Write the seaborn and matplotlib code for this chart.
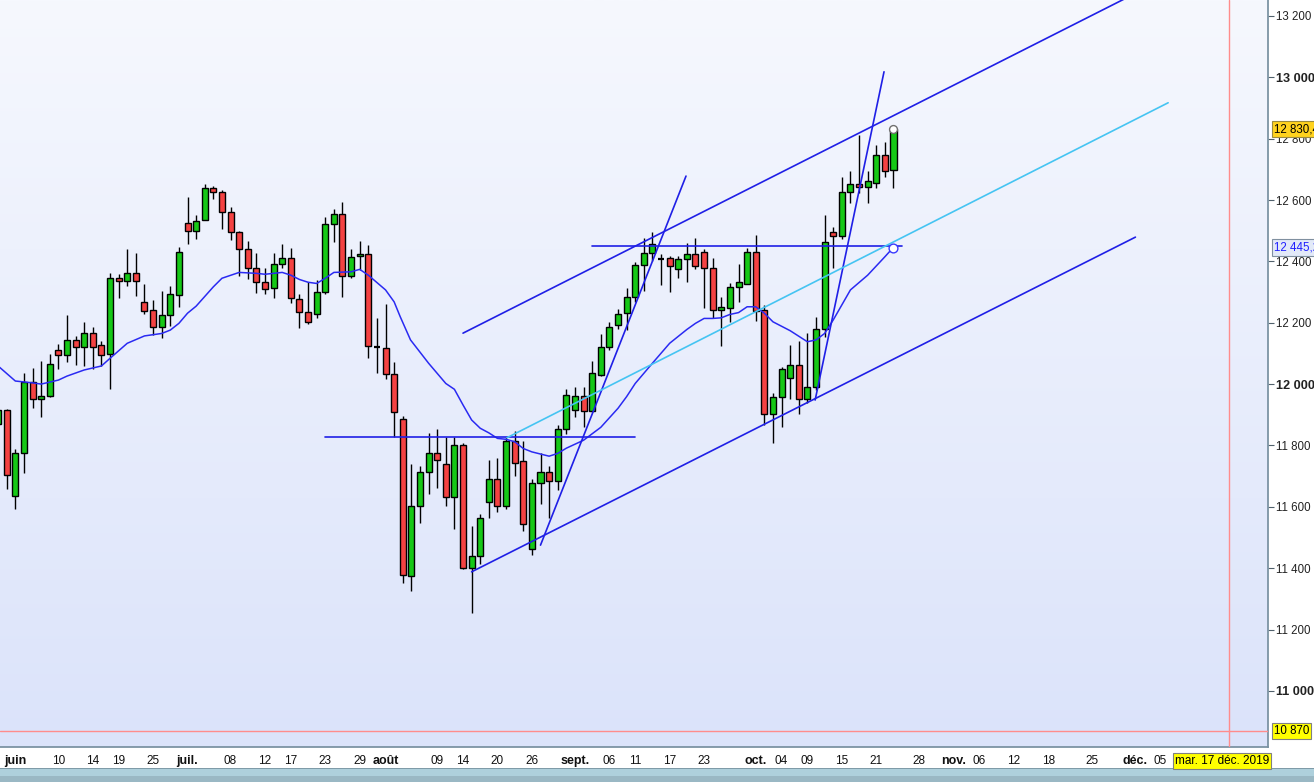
import numpy as np
import pandas as pd
import matplotlib
matplotlib.use("Agg")
import matplotlib.pyplot as plt
from matplotlib.colors import LinearSegmentedColormap
from matplotlib.patches import Rectangle
import matplotlib.transforms as mtransforms
import seaborn as sns

# daily candles, 30 May 2019 .. 23 Oct 2019 (business days)
opens = [11870, 11915, 11635, 11776, 12007, 11953, 11960, 12110, 12094, 12143,
         12120, 12165, 12126, 12097, 12345, 12335, 12361, 12266, 12240, 12185,
         12224, 12289, 12524, 12498, 12534, 12638, 12625, 12560, 12495, 12439,
         12377, 12332, 12312, 12390, 12410, 12276, 12234, 12227, 12299, 12521,
         12553, 12351, 12416, 12423, 12121, 12116, 12032, 11885, 11376, 11604,
         11712, 11774, 11741, 11633, 11800, 11402, 11438, 11614, 11689, 11604,
         11813, 11748, 11464, 11676, 11715, 11683, 11852, 11917, 11962, 11911,
         12029, 12120, 12191, 12231, 12283, 12387, 12426, 12408, 12410, 12374,
         12407, 12423, 12431, 12377, 12243, 12247, 12315, 12325, 12430, 12240,
         11904, 11957, 12019, 12061, 11950, 11989, 12180, 12495, 12482, 12625,
         12651, 12644, 12654, 12746, 12697]
highs = [11922, 11918, 11790, 12037, 12054, 12075, 12098, 12130, 12225, 12157,
         12202, 12186, 12139, 12361, 12359, 12440, 12427, 12325, 12274, 12303,
         12320, 12446, 12609, 12550, 12651, 12646, 12633, 12576, 12499, 12466,
         12427, 12377, 12426, 12457, 12443, 12293, 12332, 12339, 12544, 12570,
         12593, 12439, 12466, 12452, 12214, 12260, 12071, 11896, 11739, 11734,
         11842, 11852, 11828, 11828, 11807, 11536, 11576, 11752, 11758, 11828,
         11846, 11816, 11692, 11774, 11733, 11868, 11983, 11989, 11989, 12075,
         12163, 12202, 12245, 12312, 12398, 12475, 12496, 12424, 12417, 12417,
         12459, 12475, 12439, 12410, 12283, 12328, 12391, 12443, 12486, 12257,
         11972, 12056, 12129, 12139, 12165, 12218, 12550, 12511, 12674, 12694,
         12812, 12694, 12779, 12788, 12830]
lows = [11860, 11657, 11594, 11709, 11923, 11893, 11958, 12050, 12073, 12062,
        12060, 12048, 12059, 11983, 12281, 12321, 12288, 12227, 12159, 12151,
        12190, 12252, 12456, 12472, 12534, 12604, 12507, 12471, 12353, 12343,
        12296, 12293, 12281, 12380, 12263, 12182, 12195, 12216, 12293, 12464,
        12285, 12345, 12372, 12084, 12035, 12018, 11826, 11350, 11326, 11546,
        11643, 11660, 11604, 11529, 11396, 11254, 11415, 11562, 11583, 11594,
        11702, 11521, 11442, 11608, 11565, 11654, 11836, 11893, 11861, 11909,
        12027, 12110, 12180, 12176, 12268, 12304, 12402, 12323, 12301, 12346,
        12334, 12374, 12247, 12214, 12125, 12203, 12266, 12325, 12206, 11865,
        11807, 11861, 11953, 11901, 11937, 11980, 12152, 12377, 12472, 12589,
        12624, 12589, 12638, 12674, 12640]
closes = [11915, 11703, 11776, 12007, 11953, 11961, 12064, 12094, 12143, 12120,
          12165, 12120, 12094, 12345, 12335, 12361, 12335, 12237, 12185, 12224,
          12293, 12430, 12498, 12533, 12638, 12625, 12560, 12495, 12439, 12377,
          12332, 12309, 12390, 12410, 12280, 12234, 12201, 12299, 12521, 12553,
          12351, 12413, 12423, 12124, 12122, 12032, 11908, 11379, 11604, 11712,
          11774, 11751, 11633, 11800, 11399, 11438, 11565, 11689, 11604, 11813,
          11744, 11543, 11676, 11715, 11683, 11852, 11966, 11962, 11911, 12035,
          12120, 12187, 12227, 12283, 12387, 12426, 12456, 12407, 12386, 12407,
          12423, 12384, 12377, 12243, 12250, 12315, 12332, 12430, 12237, 11901,
          11957, 12048, 12061, 11950, 11989, 12180, 12462, 12482, 12625, 12651,
          12644, 12661, 12746, 12694, 12830]

# moving average (day index, value)
ma_days = [0, 2, 4, 5, 7, 8, 10, 12, 13, 15, 17, 19, 20, 21, 22, 23, 25, 26, 28,
           30, 31, 33, 34, 35, 36, 37, 38, 39, 41, 42, 43, 45, 46, 46.7, 47.9, 50,
           52, 53, 54, 55, 56, 57, 58, 59, 60, 61, 62, 63, 64, 65, 66, 68, 70, 72,
           73, 74, 76, 78, 80, 81, 82, 83, 84, 85, 86, 87, 88, 89, 90, 92, 94, 95,
           96, 97, 99, 101, 103, 104]
ma_values = [12059, 12010, 12004, 12000, 12013, 12026, 12046, 12059, 12084, 12133,
             12157, 12165, 12176, 12198, 12231, 12254, 12317, 12345, 12364, 12361,
             12358, 12364, 12355, 12341, 12332, 12328, 12345, 12364, 12366, 12374,
             12355, 12307, 12268, 12220, 12144, 12068, 12002, 11983, 11932, 11883,
             11856, 11841, 11823, 11820, 11812, 11790, 11779, 11772, 11765, 11774,
             11791, 11817, 11859, 11921, 11959, 12002, 12068, 12133, 12178, 12198,
             12214, 12214, 12216, 12227, 12233, 12252, 12252, 12231, 12203, 12174,
             12138, 12144, 12165, 12209, 12307, 12355, 12415, 12446]

# drawn lines: (day0, value0, day1, value1)
channel_lines = [(54.0, 12166, 131.0, 13258),
                 (55.0, 11388, 132.1, 12479),
                 (38.0, 11828, 74.0, 11828),
                 (69.0, 12450, 105.0, 12450),
                 (63.0, 11475, 79.9, 12678),
                 (94.9, 11948, 102.9, 13018)]
mid_line = (59.1, 11825, 135.9, 12917)

tick_dates = ["2019-06-03", "2019-06-10", "2019-06-14", "2019-06-19", "2019-06-25",
              "2019-07-01", "2019-07-08", "2019-07-12", "2019-07-17", "2019-07-23",
              "2019-07-29", "2019-08-01", "2019-08-09", "2019-08-14", "2019-08-20",
              "2019-08-26", "2019-09-02", "2019-09-06", "2019-09-11", "2019-09-17",
              "2019-09-23", "2019-10-01", "2019-10-04", "2019-10-09", "2019-10-15",
              "2019-10-21", "2019-10-28", "2019-11-01", "2019-11-06", "2019-11-12",
              "2019-11-18", "2019-11-25", "2019-12-02", "2019-12-05"]
tick_labels = ["juin", "10", "14", "19", "25", "juil.", "08", "12", "17", "23",
               "29", "août", "09", "14", "20", "26", "sept.", "06", "11", "17",
               "23", "oct.", "04", "09", "15", "21", "28", "nov.", "06", "12",
               "18", "25", "déc.", "05"]
months = ["juin", "juil.", "août", "sept.", "oct.", "nov.", "déc."]

y_ticks = [11000, 11200, 11400, 11600, 11800, 12000, 12200, 12400, 12600,
           12800, 13000, 13200]

last_price = 12830.4
ma_last = 12445.2
cursor_price = 10870
cursor_date = "2019-12-17"

days = pd.bdate_range("2019-05-30", "2019-12-31")
df = pd.DataFrame({"day": np.arange(len(opens)), "open": opens, "high": highs,
                   "low": lows, "close": closes})
ma = pd.DataFrame({"day": ma_days, "ma": ma_values})

sns.set_theme(style="white")
plt.rcParams["font.family"] = ["Liberation Sans", "DejaVu Sans"]
narrow = ["Liberation Sans Narrow", "Liberation Sans", "DejaVu Sans"]

fig = plt.figure(figsize=(13.14, 7.82), dpi=100)
fig.patch.set_facecolor("white")
ax = fig.add_axes([0, 35 / 782, 1268 / 1314, 747 / 782])

xmin, xmax = 0.22, 147.5
ymin, ymax = 10817, 13252
ax.set_xlim(xmin, xmax)
ax.set_ylim(ymin, ymax)

grad = LinearSegmentedColormap.from_list("bg", ["#dbe3fa", "#f6f8fe"])
ax.imshow(np.linspace(0, 1, 256).reshape(-1, 1), cmap=grad, origin="lower",
          extent=[xmin, xmax, ymin, ymax], aspect="auto", zorder=0)

# candles
ax.vlines(df["day"], df["low"], df["high"], color="black", lw=1.0, zorder=3)
for _, r in df.iterrows():
    diff = r["close"] - r["open"]
    if abs(diff) < 3:
        ax.hlines(r["open"], r["day"] - 0.36, r["day"] + 0.36, color="black",
                  lw=1.6, zorder=4)
        continue
    col = "#16c816" if diff > 0 else "#f44242"
    ax.bar(r["day"], abs(diff), bottom=min(r["open"], r["close"]), width=0.7,
           color=col, edgecolor="black", linewidth=1.0, zorder=4)

# moving average
sns.lineplot(data=ma, x="day", y="ma", ax=ax, color="#2a2af2", lw=1.1,
             zorder=5, legend=False)

for d0, v0, d1, v1 in channel_lines:
    ax.plot([d0, d1], [v0, v1], color="#1f1fe6", lw=1.2, zorder=6)
ax.plot([mid_line[0], mid_line[2]], [mid_line[1], mid_line[3]],
        color="#45c4f2", lw=1.2, zorder=6)

ax.scatter([104], [ma_last], s=40, facecolor="white", edgecolor="#3a3aff",
           lw=1.0, zorder=8)
ax.scatter([104], [last_price], s=32, facecolor="white", edgecolor="#707070",
           lw=1.0, zorder=8)

# cursor lines
cur_x = days.get_loc(pd.Timestamp(cursor_date))
ax.axhline(cursor_price, color="#ff8c8c", lw=1.0, zorder=7)
ax.axvline(cur_x, color="#ff8c8c", lw=1.0, zorder=7)

# axes styling
for s in ["top", "left"]:
    ax.spines[s].set_visible(False)
ax.spines["right"].set_color("#7890a0")
ax.spines["bottom"].set_color("#7890a0")
ax.grid(False)
ax.set_xlabel("")
ax.set_ylabel("")

ax.yaxis.tick_right()
ax.set_yticks(y_ticks)
ax.set_yticklabels([f"{v:,}".replace(",", " ") for v in y_ticks])
for lab, v in zip(ax.get_yticklabels(), y_ticks):
    if v % 1000 == 0:
        lab.set_fontweight("bold")
        lab.set_fontsize(9.2)
    else:
        lab.set_fontsize(8.3)
ax.tick_params(axis="y", direction="out", length=4, width=0.8, color="#50606c",
               pad=2, labelcolor="#222222")

xt = [days.get_loc(pd.Timestamp(d)) for d in tick_dates]
ax.set_xticks(xt)
ax.set_xticklabels(tick_labels)
for lab in ax.get_xticklabels():
    lab.set_family(narrow)
    if lab.get_text() in months:
        lab.set_fontweight("bold")
        lab.set_fontsize(9)
    else:
        lab.set_fontsize(8.5)
ax.tick_params(axis="x", direction="out", length=4, width=0.8, color="#50606c",
               pad=2, labelcolor="#111111")

# price boxes on the right axis
trans = mtransforms.blended_transform_factory(ax.transAxes, ax.transData)
ax.text(1.0 + 6 / 1268, last_price, "12 830,4", transform=trans, fontsize=8.3,
        va="center", ha="left", color="black", zorder=10, clip_on=False,
        bbox=dict(boxstyle="square,pad=0.18", fc="#ffd21e", ec="#9a8a40", lw=0.8))
ax.text(1.0 + 6 / 1268, ma_last, "12 445,2", transform=trans, fontsize=8.3,
        va="center", ha="left", color="#2020ff", zorder=10, clip_on=False,
        bbox=dict(boxstyle="square,pad=0.18", fc="#e2e9f8", ec="#8090a0", lw=0.8))
ax.text(1.0 + 6 / 1268, cursor_price, "10 870", transform=trans, fontsize=8.3,
        va="center", ha="left", color="black", zorder=10, clip_on=False,
        bbox=dict(boxstyle="square,pad=0.18", fc="#ffff00", ec="#808080", lw=0.8))

fig.text(1222 / 1314, 1 - 761 / 782, "mar. 17 déc. 2019", fontsize=8.5,
         family=narrow, ha="center", va="center", color="black", zorder=10,
         bbox=dict(boxstyle="square,pad=0.2", fc="#ffff00", ec="#808080", lw=0.8))

# toolbar strip at the bottom
fig.patches.append(Rectangle((0, 0), 1, 6 / 782, transform=fig.transFigure,
                             facecolor="#9ab8c4", edgecolor="none", zorder=1))
fig.patches.append(Rectangle((0, 6 / 782), 1, 7 / 782, transform=fig.transFigure,
                             facecolor="#aed0dc", edgecolor="none", zorder=1))
fig.patches.append(Rectangle((0, 13 / 782), 1, 1 / 782, transform=fig.transFigure,
                             facecolor="#7f9ba8", edgecolor="none", zorder=1))

fig.savefig("out.png", dpi=100)
